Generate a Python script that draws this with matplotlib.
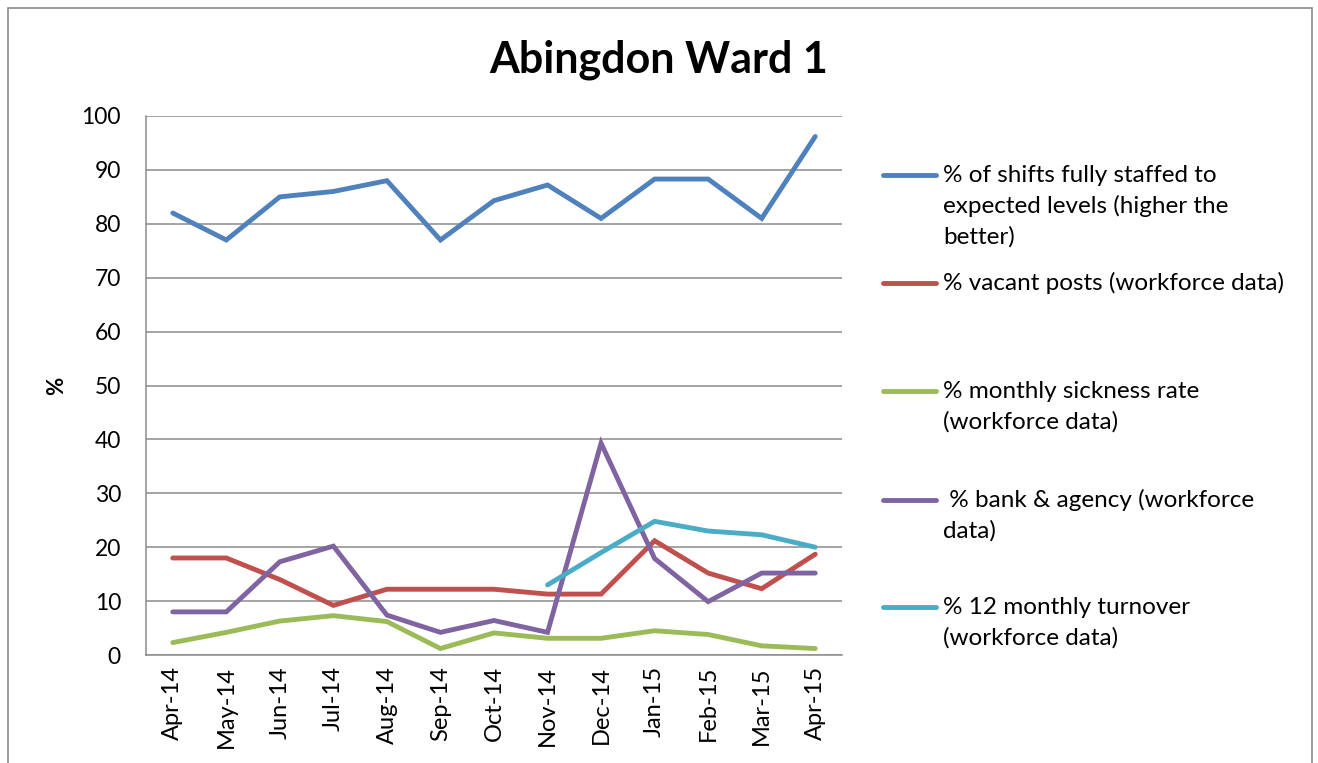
import numpy as np
import matplotlib
matplotlib.use('Agg')
import matplotlib.pyplot as plt
from matplotlib.lines import Line2D
from matplotlib.patches import Rectangle

plt.rcParams['font.family'] = ['Lato', 'DejaVu Sans']

months = ['Apr-14', 'May-14', 'Jun-14', 'Jul-14', 'Aug-14', 'Sep-14', 'Oct-14',
          'Nov-14', 'Dec-14', 'Jan-15', 'Feb-15', 'Mar-15', 'Apr-15']

shifts_staffed = [82, 77, 85, 86, 88, 77, 84.3, 87.2, 81, 88.3, 88.3, 81, 96.2]
vacant_posts = [18, 18, 14, 9.2, 12.2, 12.2, 12.2, 11.3, 11.3, 21.2, 15.2, 12.3, 18.7]
sickness_rate = [2.3, 4.2, 6.3, 7.3, 6.2, 1.2, 4.1, 3.1, 3.1, 4.5, 3.8, 1.7, 1.2]
bank_agency = [8, 8, 17.3, 20.2, 7.4, 4.2, 6.4, 4.2, 39.3, 17.9, 9.9, 15.2, 15.2]
turnover = [np.nan, np.nan, np.nan, np.nan, np.nan, np.nan, np.nan,
            13, 19, 24.8, 23, 22.3, 20]

labels = ['% of shifts fully staffed to\nexpected levels (higher the\nbetter)',
          '% vacant posts (workforce data)',
          '% monthly sickness rate\n(workforce data)',
          ' % bank & agency (workforce\ndata)',
          '% 12 monthly turnover\n(workforce data)']
colors = ['#4F81BD', '#C0504D', '#9BBB59', '#8064A2', '#4BACC6']

W, H = 1318, 763
fig = plt.figure(figsize=(W / 100, H / 100), dpi=100)
ax = fig.add_axes([146 / W, 1 - 655 / H, (842 - 146) / W, (655 - 116) / H])

x = np.arange(len(months))
series = [shifts_staffed, vacant_posts, sickness_rate, bank_agency, turnover]
for vals, col, lab in zip(series, colors, labels):
    ax.plot(x, vals, color=col, linewidth=3.5, label=lab,
            solid_capstyle='round', solid_joinstyle='miter')

ax.set_xlim(-0.5, len(months) - 0.5)
ax.set_ylim(0, 100)
ax.set_yticks(range(0, 101, 10))
ax.set_xticks(x)
ax.set_xticklabels(months, rotation=90, fontsize=17)
ax.tick_params(axis='y', labelsize=16.5, length=0, pad=18)
ax.tick_params(axis='x', length=0, pad=8)
ax.yaxis.grid(True, color='#8c8c8c', linewidth=1.1)
ax.set_axisbelow(True)
for side in ['top', 'right']:
    ax.spines[side].set_visible(False)
for side in ['left', 'bottom']:
    ax.spines[side].set_color('#8c8c8c')
    ax.spines[side].set_linewidth(1.1)

ax.set_ylabel('%', fontsize=16, fontweight='bold', labelpad=10)

fig.text(659 / W, 1 - 60 / H, 'Abingdon Ward 1', fontsize=31,
         fontweight='bold', ha='center', va='center')

# legend drawn by hand so the entries sit evenly like the Excel one
entry_y = [175, 283, 391, 500, 607]
for line, ey in zip(ax.get_lines(), entry_y):
    fig.add_artist(Line2D([883 / W, 936 / W], [1 - ey / H, 1 - ey / H],
                          color=line.get_color(), linewidth=3.5,
                          solid_capstyle='round', transform=fig.transFigure))
    for i, part in enumerate(line.get_label().split('\n')):
        fig.text(943 / W, 1 - (ey + i * 31) / H, part, fontsize=17.5,
                 ha='left', va='center')

# chart area border
fig.add_artist(Rectangle((7.5 / W, -0.02), (1312 - 7.5) / W, 1 - 8 / H + 0.02,
                         transform=fig.transFigure, fill=False,
                         edgecolor='#8c8c8c', linewidth=1.2))

fig.savefig('out.png', dpi=100, facecolor='white')
